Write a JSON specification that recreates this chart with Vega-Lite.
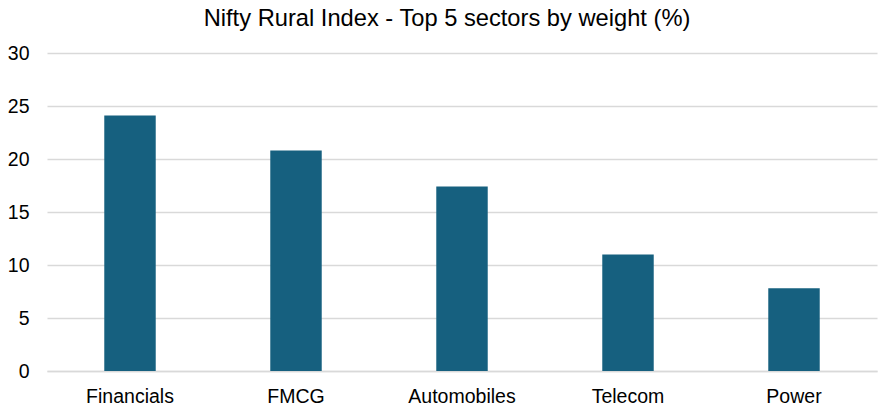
{
  "$schema": "https://vega.github.io/schema/vega-lite/v6.json",
  "width": 830,
  "height": 318,
  "autosize": {"type": "none"},
  "padding": {"left": 47, "top": 53, "right": 6, "bottom": 40},
  "background": "white",
  "title": {
    "text": "Nifty Rural Index - Top 5 sectors by weight (%)",
    "font": "Liberation Sans",
    "fontSize": 23.7,
    "fontWeight": "normal",
    "color": "#000000",
    "anchor": "middle",
    "dx": -15,
    "baseline": "top",
    "offset": 0,
    "dy": -12
  },
  "data": {
    "values": [
      {"sector": "Financials", "weight": 24.1},
      {"sector": "FMCG", "weight": 20.8},
      {"sector": "Automobiles", "weight": 17.4},
      {"sector": "Telecom", "weight": 11.0},
      {"sector": "Power", "weight": 7.8}
    ]
  },
  "mark": {"type": "bar", "color": "#16607f"},
  "encoding": {
    "x": {
      "field": "sector",
      "type": "nominal",
      "sort": null,
      "title": null,
      "scale": {"paddingInner": 0.69, "paddingOuter": 0.345},
      "axis": {
        "labelAngle": 0,
        "labelFont": "Liberation Sans",
        "labelFontSize": 19.5,
        "labelColor": "#000000",
        "labelPadding": 16,
        "ticks": false,
        "domain": true,
        "domainColor": "#d9d9d9",
        "domainWidth": 1.5
      }
    },
    "y": {
      "field": "weight",
      "type": "quantitative",
      "title": null,
      "scale": {"domain": [0, 30]},
      "axis": {
        "values": [0, 5, 10, 15, 20, 25, 30],
        "labelFont": "Liberation Sans",
        "labelFontSize": 19.5,
        "labelColor": "#000000",
        "labelPadding": 18,
        "ticks": false,
        "domain": false,
        "grid": true,
        "gridColor": "#d9d9d9",
        "gridWidth": 1.5
      }
    }
  },
  "config": {"view": {"stroke": null}}
}
